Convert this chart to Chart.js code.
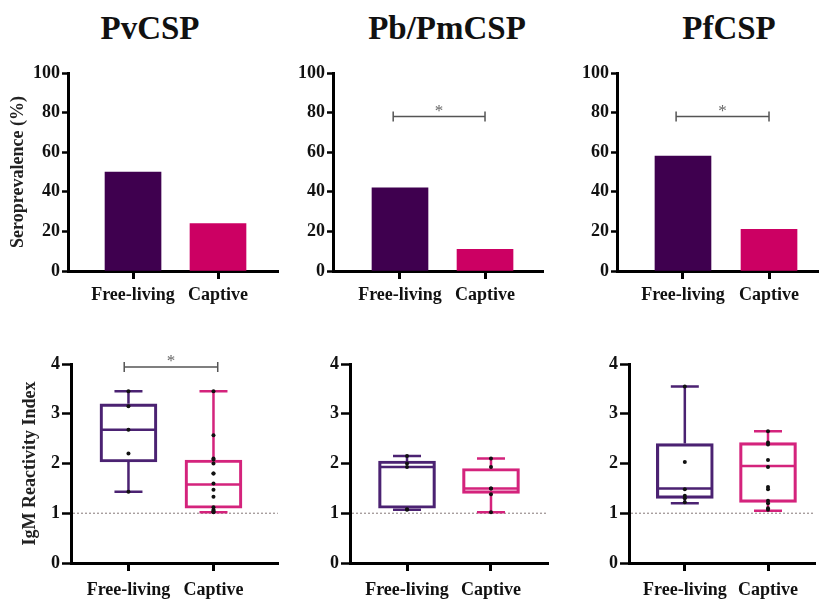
<!DOCTYPE html>
<html>
<head>
<meta charset="utf-8">
<script src="https://cdn.jsdelivr.net/npm/chart.js@4.4.1/dist/chart.umd.min.js"></script>
<style>
  body { margin: 0; background: #fff; width: 819px; height: 599px; position: relative; overflow: hidden; }
  canvas { position: absolute; }
  .ttl { position: absolute; top: 12px; font: bold 33px/1 'Liberation Serif', serif; color: #111; transform: translateX(-50%); white-space: nowrap; }
</style>
</head>
<body>
<div class="ttl" style="left:150px">PvCSP</div>
<div class="ttl" style="left:447px">Pb/PmCSP</div>
<div class="ttl" style="left:729px">PfCSP</div>

<canvas id="sPv" width="282" height="262" style="left:0;top:50px"></canvas>
<canvas id="sPb" width="266" height="262" style="left:282px;top:50px"></canvas>
<canvas id="sPf" width="259" height="262" style="left:560px;top:50px"></canvas>
<canvas id="iPv" width="282" height="260" style="left:0;top:340px"></canvas>
<canvas id="iPb" width="262" height="260" style="left:290px;top:340px"></canvas>
<canvas id="iPf" width="249" height="260" style="left:570px;top:340px"></canvas>

<script>
// 혈청 유병률 + IgM 반응성 — 막대 3개, 박스플롯 3개
const groups = ['Free-living', 'Captive'];
const seroTicks = [0, 20, 40, 60, 80, 100];
const igmTicks = [0, 1, 2, 3, 4];

// Seroprevalence (%)
const seroPv = [50, 24];
const seroPb = [42, 11];
const seroPf = [58, 21];

// IgM box stats: [min, q1, median, q3, max]
const boxPvFree = [1.43, 2.03, 2.68, 3.20, 3.45];
const boxPvCapt = [1.02, 1.10, 1.58, 2.07, 3.45];
const boxPbFree = [1.07, 1.10, 1.93, 2.05, 2.15];
const boxPbCapt = [1.02, 1.40, 1.50, 1.90, 2.10];
const boxPfFree = [1.20, 1.30, 1.50, 2.40, 3.55];
const boxPfCapt = [1.05, 1.22, 1.95, 2.42, 2.65];

// IgM individual values
const ptsPvFree = [3.45, 3.15, 2.68, 2.20, 1.43];
const ptsPvCapt = [3.45, 2.57, 2.10, 2.08, 2.00, 1.80, 1.80, 1.60, 1.47, 1.33, 1.12, 1.07, 1.05, 1.03, 1.02];
const ptsPbFree = [2.15, 2.00, 1.93, 1.08, 1.07];
const ptsPbCapt = [2.10, 1.93, 1.50, 1.50, 1.38, 1.02];
const ptsPfFree = [3.55, 2.03, 1.48, 1.35, 1.30, 1.22];
const ptsPfCapt = [2.65, 2.42, 2.38, 2.07, 1.93, 1.53, 1.48, 1.25, 1.20, 1.10, 1.07];

const cutoff = 1;

const COLORS = {
  barFree: '#3f004f',
  barCapt: '#cc0063',
  boxFree: '#4b2272',
  boxCapt: '#d4237c',
  sig: '#555',
  cutoff: '#9a8f8f',
};

const SERIF = "'Liberation Serif', 'Times New Roman', serif";
Chart.defaults.font.family = SERIF;
Chart.defaults.color = '#111';

// 수염, 중앙값, 기준선, 유의성 표시
const extras = {
  id: 'extras',
  beforeDatasetsDraw(chart, args, opts) {
    const { ctx, chartArea: a, scales: { x, y } } = chart;
    ctx.save();
    if (opts.cutoff != null) {
      const yy = y.getPixelForValue(opts.cutoff);
      ctx.strokeStyle = COLORS.cutoff;
      ctx.lineWidth = 1.2;
      ctx.setLineDash([2, 2]);
      ctx.beginPath();
      ctx.moveTo(a.left + 2, yy);
      ctx.lineTo(a.right, yy);
      ctx.stroke();
      ctx.setLineDash([]);
    }
    (opts.boxes || []).forEach((b, i) => {
      const cx = x.getPixelForValue(i);
      const [mn, q1, md, q3, mx] = b.map((v) => y.getPixelForValue(v));
      ctx.strokeStyle = opts.colors[i];
      ctx.lineWidth = 2.5;
      ctx.beginPath();
      ctx.moveTo(cx, mx); ctx.lineTo(cx, q3);
      ctx.moveTo(cx, q1); ctx.lineTo(cx, mn);
      ctx.moveTo(cx - 14, mx); ctx.lineTo(cx + 14, mx);
      ctx.moveTo(cx - 14, mn); ctx.lineTo(cx + 14, mn);
      ctx.moveTo(cx - 27, md); ctx.lineTo(cx + 27, md);
      ctx.stroke();
    });
    if (opts.sig) {
      const x0 = x.getPixelForValue(opts.sig.from);
      const x1 = x.getPixelForValue(opts.sig.to);
      const yy = y.getPixelForValue(opts.sig.at);
      ctx.strokeStyle = COLORS.sig;
      ctx.lineWidth = 1.5;
      ctx.beginPath();
      ctx.moveTo(x0, yy); ctx.lineTo(x1, yy);
      ctx.moveTo(x0, yy - 5); ctx.lineTo(x0, yy + 5);
      ctx.moveTo(x1, yy - 5); ctx.lineTo(x1, yy + 5);
      ctx.stroke();
      ctx.fillStyle = '#666';
      ctx.font = '17px ' + SERIF;
      ctx.textAlign = 'center';
      ctx.textBaseline = 'alphabetic';
      ctx.fillText('*', (x0 + x1) / 2, yy - 1);
    }
    ctx.restore();
  },
};

function xScale(min, max, height, pad) {
  return {
    type: 'linear', min, max, z: 1, offset: false,
    afterBuildTicks: (s) => { s.ticks = groups.map((g, i) => ({ value: i })); },
    ticks: { callback: (v) => groups[v], font: { family: SERIF, size: 18, weight: 'bold' }, padding: pad, autoSkip: false, maxRotation: 0 },
    border: { color: '#000', width: 3 },
    grid: { offset: false, drawOnChartArea: false, tickLength: 8, tickWidth: 3, tickColor: '#000' },
    afterFit: (s) => { s.height = height; },
  };
}

function yScale(tickVals, width, tickLen, title, titlePad) {
  return {
    min: tickVals[0], max: tickVals[tickVals.length - 1], z: 1,
    afterBuildTicks: (s) => { s.ticks = tickVals.map((v) => ({ value: v })); },
    ticks: { font: { family: SERIF, size: 18, weight: 'bold' }, padding: 2 },
    border: { color: '#000', width: 3 },
    grid: { drawOnChartArea: false, tickLength: tickLen, tickWidth: 2.5, tickColor: '#000' },
    title: title
      ? { display: true, text: title, color: '#222', font: { family: SERIF, size: 18, weight: 'bold' }, padding: { top: titlePad, bottom: 0 } }
      : { display: false },
    afterFit: (s) => { s.width = width; },
  };
}

function seroChart(id, values, p) {
  new Chart(document.getElementById(id), {
    type: 'bar',
    data: {
      datasets: [{
        data: values.map((v, i) => ({ x: i, y: v })),
        backgroundColor: [COLORS.barFree, COLORS.barCapt],
        barThickness: 56,
      }],
    },
    options: {
      responsive: false,
      animation: false,
      layout: { padding: { top: 23, right: p.right, left: 0, bottom: 0 } },
      plugins: { legend: { display: false }, tooltip: { enabled: false }, extras: { sig: p.sig } },
      scales: {
        x: xScale(p.min, p.max, 41, 6),
        y: yScale(seroTicks, p.width, 6, p.title, 8),
      },
    },
    plugins: [extras],
  });
}

function igmChart(id, boxes, pts, p) {
  new Chart(document.getElementById(id), {
    type: 'bar',
    data: {
      datasets: [
        {
          data: boxes.map((b, i) => ({ x: i, y: [b[1], b[3]] })),
          backgroundColor: 'rgba(255,255,255,0)',
          borderColor: [COLORS.boxFree, COLORS.boxCapt],
          borderWidth: 2.5,
          borderSkipped: false,
          barThickness: 57,
          order: 1,
        },
        {
          type: 'scatter',
          data: pts.flatMap((arr, i) => arr.map((v) => ({ x: i, y: v }))),
          backgroundColor: '#111',
          pointRadius: 2,
          pointBorderWidth: 0,
          order: 0,
        },
      ],
    },
    options: {
      responsive: false,
      animation: false,
      layout: { padding: { top: 24, right: p.right, left: 0, bottom: 0 } },
      plugins: {
        legend: { display: false }, tooltip: { enabled: false },
        extras: { cutoff, boxes, colors: [COLORS.boxFree, COLORS.boxCapt], sig: p.sig },
      },
      scales: {
        x: xScale(p.min, p.max, 37, 9),
        y: yScale(igmTicks, p.width, 9, p.title, 20),
      },
    },
    plugins: [extras],
  });
}

seroChart('sPv', seroPv, { min: -0.765, max: 1.706, width: 68, right: 4, title: 'Seroprevalence (%)' });
seroChart('sPb', seroPb, { min: -0.788, max: 1.682, width: 51, right: 5, sig: { from: -0.08, to: 1.0, at: 78 } });
seroChart('sPf', seroPf, { min: -0.767, max: 1.581, width: 57, right: 0, sig: { from: -0.08, to: 1.0, at: 78 } });

igmChart('iPv', [boxPvFree, boxPvCapt], [ptsPvFree, ptsPvCapt],
  { min: -0.676, max: 1.759, width: 71, right: 4, title: 'IgM Reactivity Index', sig: { from: -0.05, to: 1.05, at: 3.94 } });
igmChart('iPb', [boxPbFree, boxPbCapt], [ptsPbFree, ptsPbCapt],
  { min: -0.679, max: 1.679, width: 60, right: 4 });
igmChart('iPf', [boxPfFree, boxPfCapt], [ptsPfFree, ptsPfCapt],
  { min: -0.671, max: 1.565, width: 59, right: 0 });
</script>
</body>
</html>
